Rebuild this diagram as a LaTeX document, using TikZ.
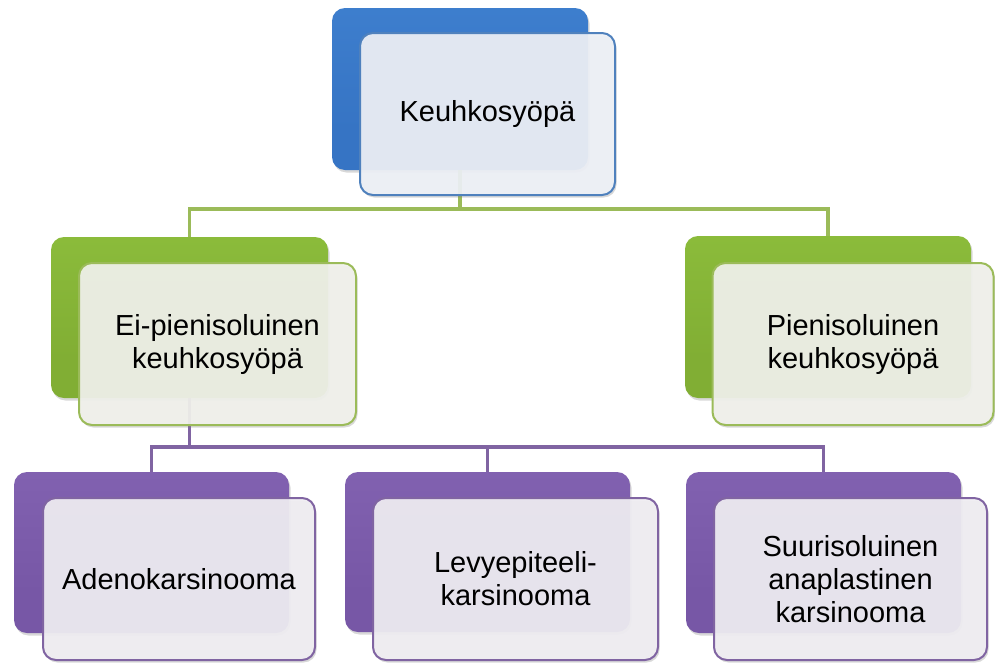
\documentclass[tikz,border=0pt]{standalone}
\usepackage{fontspec}
\setmainfont{Liberation Sans}
\usetikzlibrary{shadows}
\definecolor{blueA}{HTML}{7AB2EE}
\definecolor{blueM}{HTML}{3F80CF}
\definecolor{blueB}{HTML}{3674C4}
\definecolor{blueL}{HTML}{4F81BD}
\definecolor{blueF}{HTML}{EEF1F7}
\definecolor{greenA}{HTML}{C4E77E}
\definecolor{greenM}{HTML}{8DBE3C}
\definecolor{greenB}{HTML}{81AE34}
\definecolor{greenL}{HTML}{9BBB59}
\definecolor{greenF}{HTML}{F1F2EC}
\definecolor{purpA}{HTML}{B49AD9}
\definecolor{purpM}{HTML}{8363B2}
\definecolor{purpB}{HTML}{7757A6}
\definecolor{purpL}{HTML}{8064A2}
\definecolor{purpF}{HTML}{F0EEF3}
\pgfdeclareverticalshading{bluesh}{100bp}{color(0bp)=(blueB); color(25bp)=(blueB); color(70bp)=(blueM); color(72bp)=(blueM); color(75bp)=(blueA)}
\pgfdeclareverticalshading{greensh}{100bp}{color(0bp)=(greenB); color(25bp)=(greenB); color(70bp)=(greenM); color(72bp)=(greenM); color(75bp)=(greenA)}
\pgfdeclareverticalshading{purpsh}{100bp}{color(0bp)=(purpB); color(25bp)=(purpB); color(70bp)=(purpM); color(72bp)=(purpM); color(75bp)=(purpA)}
\tikzset{
  sz/.style 2 args={minimum width=#1pt, minimum height=#2pt},
  bkbox/.style={rounded corners=13pt, inner sep=0pt, draw=none,
    drop shadow={opacity=0.3, shadow xshift=1.5pt, shadow yshift=-2.5pt}},
  frbox/.style={rounded corners=13pt, inner sep=0pt, line width=2pt,
    fill opacity=0.92, text opacity=1, align=center,
    font=\fontsize{29}{33}\selectfont,
    drop shadow={opacity=0.3, shadow xshift=1.5pt, shadow yshift=-2.5pt}},
  gline/.style={draw=greenL, line width=3.5pt},
  pline/.style={draw=purpL, line width=3.5pt},
}
\begin{document}
\begin{tikzpicture}[x=1pt,y=-1pt]
\useasboundingbox[fill=white] (0,0) rectangle (995,662);
% back boxes
\node[bkbox, shading=bluesh, sz={256}{162}] (tb) at (460,89) {};
\node[bkbox, shading=greensh, sz={277}{161}] (gl) at (189.5,317.5) {};
\node[bkbox, shading=greensh, sz={286}{162}] (gr) at (828,317) {};
\node[bkbox, shading=purpsh, sz={275}{161}] (pl) at (151.5,552.5) {};
\node[bkbox, shading=purpsh, sz={285}{160}] (pm) at (487.5,552) {};
\node[bkbox, shading=purpsh, sz={275}{161}] (pr) at (823.5,552.5) {};
% connectors
\draw[gline] (tb.south) -- ++(0,39) -| (gl.north);
\draw[gline] (tb.south) -- ++(0,39) -| (gr.north);
\draw[pline] (gl.south) -- ++(0,49) -| (pl.north);
\draw[pline] (gl.south) -- ++(0,49) -| (pm.north);
\draw[pline] (gl.south) -- ++(0,49) -| (pr.north);
% front boxes
\node[frbox, draw=blueL, fill=blueF, sz={255}{162}] (tf) at (487.5,114) {Keuhkosyöpä};
\node[frbox, draw=greenL, fill=greenF, sz={277}{162}] (glf) at (217.5,344) {Ei-pienisoluinen\\keuhkosyöpä};
\node[frbox, draw=greenL, fill=greenF, sz={281}{162}] (grf) at (853,344) {Pienisoluinen\\keuhkosyöpä};
\node[frbox, draw=purpL, fill=purpF, sz={272}{162}] (plf) at (179,579) {Adenokarsinooma};
\node[frbox, draw=purpL, fill=purpF, sz={285}{162}] (pmf) at (515.5,579) {Levyepiteeli-\\karsinooma};
\node[frbox, draw=purpL, fill=purpF, sz={273}{162}] (prf) at (850.5,579) {Suurisoluinen\\anaplastinen\\karsinooma};
\end{tikzpicture}
\end{document}
